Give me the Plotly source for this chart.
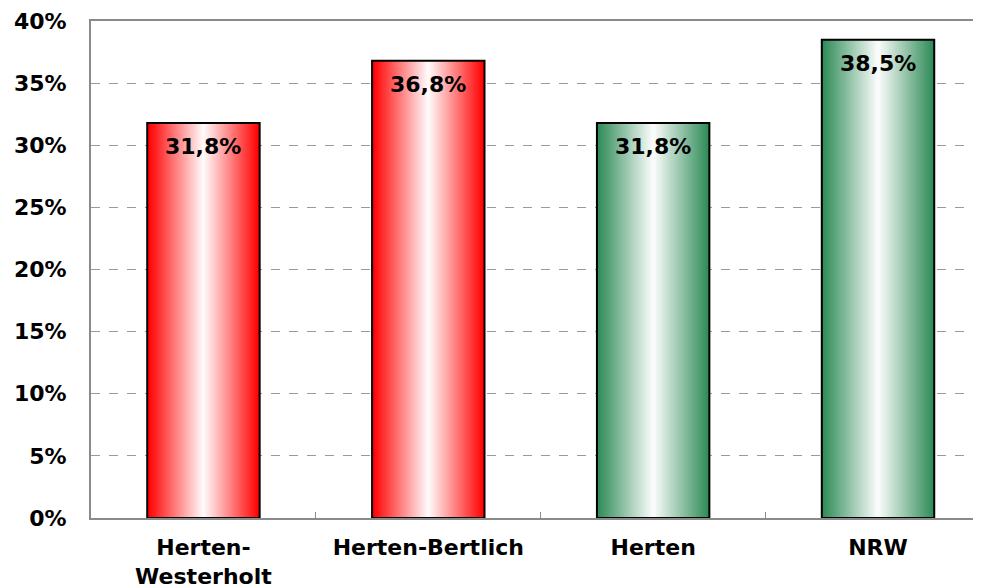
import plotly.graph_objects as go

# ---- data ----
categories = ["Herten-<br>Westerholt", "Herten-Bertlich", "Herten", "NRW"]
values = [31.8, 36.8, 31.8, 38.5]
y_tickvals = [0, 5, 10, 15, 20, 25, 30, 35, 40]
y_ticktext = ["0%", "5%", "10%", "15%", "20%", "25%", "30%", "35%", "40%"]

# ---- style ----
edge_colors = [(255, 0, 0), (255, 0, 0), (46, 139, 87), (46, 139, 87)]
BAR_W = 0.5
N_LAYERS = 40
FONT = "DejaVu Sans"

fig = go.Figure()

# gradient: overlaid bars of decreasing width, from edge colour to white
for i in range(N_LAYERS):
    f = 1 - i / N_LAYERS
    cols = []
    for (r, g, b) in edge_colors:
        cr = round(255 + (r - 255) * f)
        cg = round(255 + (g - 255) * f)
        cb = round(255 + (b - 255) * f)
        cols.append(f"rgb({cr},{cg},{cb})")
    fig.add_trace(go.Bar(
        x=categories, y=values, width=BAR_W * f,
        marker=dict(color=cols, line=dict(width=0)),
        hoverinfo="skip", showlegend=False,
    ))

# outline on top
fig.add_trace(go.Bar(
    x=categories, y=values, width=BAR_W,
    marker=dict(color="rgba(0,0,0,0)", line=dict(color="black", width=2)),
    showlegend=False,
))

for c, v in zip(categories, values):
    fig.add_annotation(
        x=c, y=v, text=f"{v:.1f}%".replace(".", ","),
        showarrow=False, yanchor="top", yshift=-9,
        font=dict(family=FONT, size=22, color="black", weight="bold"),
    )

# page body has an 8px margin, so the figure is laid out 8px smaller/offset
fig.update_layout(
    width=973, height=580,
    margin=dict(l=83, r=0, t=13, b=70, pad=0),
    barmode="overlay",
    plot_bgcolor="white", paper_bgcolor="white",
    font=dict(family=FONT, size=22, color="black", weight="bold"),
    showlegend=False,
)
fig.update_xaxes(
    type="category", categoryorder="array", categoryarray=categories,
    range=[-0.5, 3.458], automargin=False,
    showline=True, linecolor="#8a8a8a", linewidth=2, mirror=True,
    ticks="inside", tickson="boundaries", ticklen=6, tickcolor="#8a8a8a", tickwidth=1,
    ticklabelstandoff=9,
    tickfont=dict(family=FONT, size=22, color="black", weight="bold"),
    showgrid=False,
)
fig.update_yaxes(
    range=[0, 40], tickvals=y_tickvals, ticktext=y_ticktext, automargin=False,
    showline=True, linecolor="#8a8a8a", linewidth=2,
    showgrid=True, gridcolor="#9a9a9a", gridwidth=1, griddash="dash",
    zeroline=False, ticks="", ticklabelstandoff=18,
    tickfont=dict(family=FONT, size=22, color="black", weight="bold"),
)

fig.write_html("out.html")
